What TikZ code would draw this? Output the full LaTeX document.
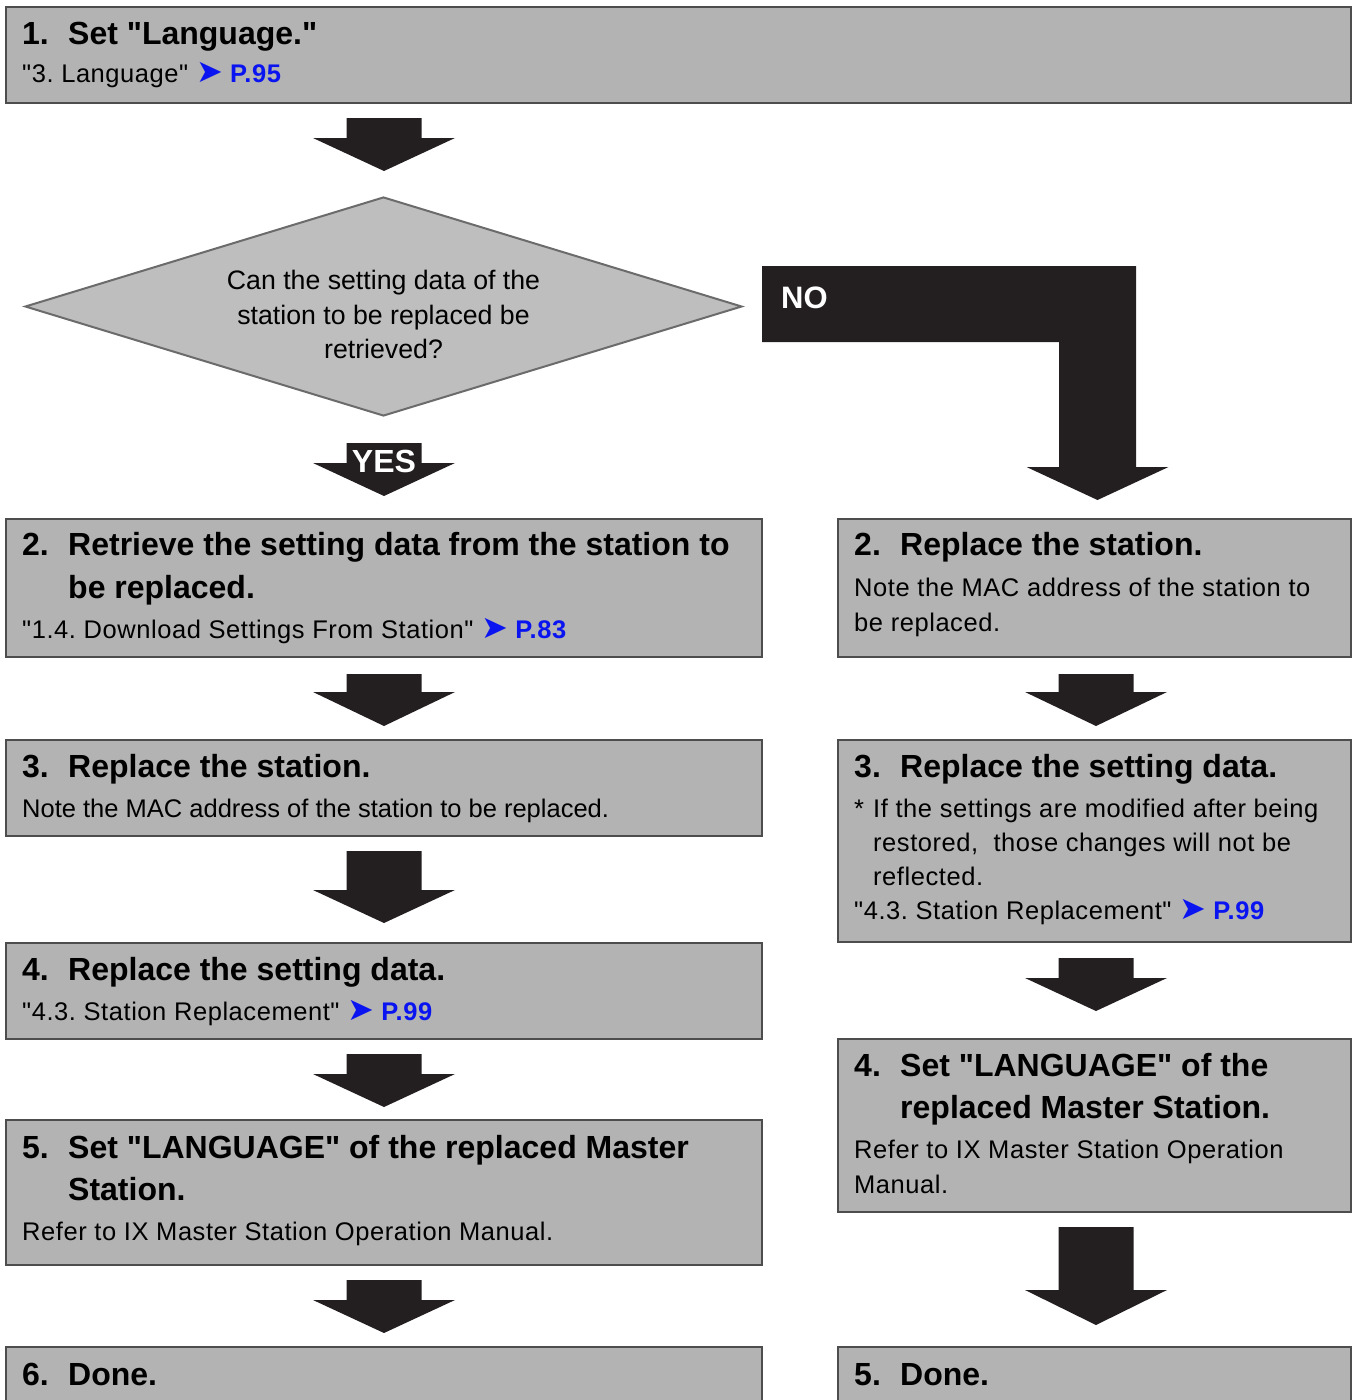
\documentclass[tikz,border=0pt]{standalone}
\usepackage{fontspec}
\setmainfont{Liberation Sans}[Ligatures=TeXOff]
\newfontfamily\trackfont{Liberation Sans}[Ligatures=TeXOff, LetterSpace=2.2]
\newfontfamily\symfont{DejaVu Sans}
\usetikzlibrary{shapes.geometric}
\definecolor{boxfill}{HTML}{B3B3B3}
\definecolor{boxline}{HTML}{4D4D4D}
\definecolor{diafill}{HTML}{BEBEBE}
\definecolor{dialine}{HTML}{6B6B6B}
\definecolor{arrowblack}{HTML}{231F20}
\definecolor{linkblue}{HTML}{0A14F0}
\frenchspacing
\newcommand\hdfont{\fontsize{32}{40}\selectfont\bfseries}
\newcommand\txfont{\fontsize{25.5}{34}\selectfont}
\newcommand\rffont{\fontsize{25.5}{34}\selectfont\trackfont}
\newcommand\dgfont{\fontsize{26.7}{34}\selectfont}
\newcommand\pref[1]{\hspace{8pt}{\fontsize{32}{34}\symfont\color{linkblue}➤}\hspace{7pt}\textcolor{linkblue}{\bfseries #1}}
\newcommand\blockarrow[5]{%
  \fill[arrowblack] (#1-37.5,#2) -- (#1+37.5,#2) -- (#1+37.5,#3) -- (#1+71,#3)
    -- (#1,#4) coordinate (#5) -- (#1-71,#3) -- (#1-37.5,#3) -- cycle;}
\tikzset{
  box/.style={draw=boxline, fill=boxfill, line width=2.5pt, rectangle, inner sep=0pt},
  hd/.style={anchor=base west, inner sep=0pt, font=\hdfont},
  tx/.style={anchor=base west, inner sep=0pt, font=\txfont},
  rf/.style={anchor=base west, inner sep=0pt, font=\rffont},
  dg/.style={anchor=base, inner sep=0pt, font=\dgfont},
}
\begin{document}
\begin{tikzpicture}[x=1pt,y=-1pt]
\useasboundingbox (0,0) rectangle (1356,1400);
\clip (0,0) rectangle (1356,1400);
% boxes
\node[box, minimum width=1345pt, minimum height=96pt] (b1) at (678.5,55) {};
\node[box, minimum width=756pt, minimum height=138pt] (l2) at (384,588) {};
\node[box, minimum width=756pt, minimum height=96pt] (l3) at (384,788) {};
\node[box, minimum width=756pt, minimum height=96pt] (l4) at (384,991) {};
\node[box, minimum width=756pt, minimum height=145pt] (l5) at (384,1192.5) {};
\node[box, minimum width=756pt, minimum height=73pt] (l6) at (384,1383.5) {};
\node[box, minimum width=513pt, minimum height=138pt] (r2) at (1094.5,588) {};
\node[box, minimum width=513pt, minimum height=202pt] (r3) at (1094.5,841) {};
\node[box, minimum width=513pt, minimum height=173pt] (r4) at (1094.5,1125.5) {};
\node[box, minimum width=513pt, minimum height=73pt] (r5) at (1094.5,1383.5) {};
% diamond
\node[diamond, draw=dialine, fill=diafill, line width=2pt, inner sep=0pt,
      minimum width=717pt, minimum height=219pt, aspect=3.27] (q) at (383.5,306.5) {};
\node[dg] (q1) at (383.5,289) {Can the setting data of the};
\node[dg] (q2) at (383.5,324) {station to be replaced be};
\node[dg] (q3) at (383.5,358) {retrieved?};
% texts box 1
\node[hd] (b1n) at (22,44) {1.};
\node[hd] (b1h) at (68,44) {Set "Language."};
\node[rf] (b1s) at (22,82) {"3. Language"\pref{P.95}};
% left column
\node[hd] (l2n) at (22,555) {2.};
\node[hd] (l2h) at (68,555) {Retrieve the setting data from the station to};
\node[hd] (l2h2) at (68,598) {be replaced.};
\node[rf] (l2s) at (22,638) {"1.4. Download Settings From Station"\pref{P.83}};
\node[hd] (l3n) at (22,777) {3.};
\node[hd] (l3h) at (68,777) {Replace the station.};
\node[tx] (l3s) at (22,817) {Note the MAC address of the station to be replaced.};
\node[hd] (l4n) at (22,980) {4.};
\node[hd] (l4h) at (68,980) {Replace the setting data.};
\node[rf] (l4s) at (22,1020) {"4.3. Station Replacement"\pref{P.99}};
\node[hd] (l5n) at (22,1158) {5.};
\node[hd] (l5h) at (68,1158) {Set "LANGUAGE" of the replaced Master};
\node[hd] (l5h2) at (68,1200) {Station.};
\node[rf] (l5s) at (22,1240) {Refer to IX Master Station Operation Manual.};
\node[hd] (l6n) at (22,1385) {6.};
\node[hd] (l6h) at (68,1385) {Done.};
% right column
\node[hd] (r2n) at (854,555) {2.};
\node[hd] (r2h) at (900,555) {Replace the station.};
\node[rf] (r2s) at (854,596) {Note the MAC address of the station to};
\node[rf] (r2s2) at (854,631) {be replaced.};
\node[hd] (r3n) at (854,777) {3.};
\node[hd] (r3h) at (900,777) {Replace the setting data.};
\node[rf] (r3a) at (854,817) {*};
\node[rf] (r3s) at (873,817) {If the settings are modified after being};
\node[rf] (r3s2) at (873,851) {restored,\ \ those changes will not be};
\node[rf] (r3s3) at (873,885) {reflected.};
\node[rf] (r3s4) at (854,919) {"4.3. Station Replacement"\pref{P.99}};
\node[hd] (r4n) at (854,1076) {4.};
\node[hd] (r4h) at (900,1076) {Set "LANGUAGE" of the};
\node[hd] (r4h2) at (900,1118) {replaced Master Station.};
\node[rf] (r4s) at (854,1158) {Refer to IX Master Station Operation};
\node[rf] (r4s2) at (854,1193) {Manual.};
\node[hd] (r5n) at (854,1385) {5.};
\node[hd] (r5h) at (900,1385) {Done.};
% block arrows
\blockarrow{384}{118}{138}{171}{a1}
\blockarrow{384}{443}{463}{496}{ayes}
\node[anchor=base, inner sep=0pt, font=\fontsize{32}{36}\selectfont\bfseries, text=white] (yes) at (384,472) {YES};
\blockarrow{384}{674}{692}{726}{al2}
\blockarrow{384}{851}{890}{923}{al3}
\blockarrow{384}{1054}{1074}{1107}{al4}
\blockarrow{384}{1280}{1300}{1333}{al5}
\blockarrow{1096}{674}{692}{726}{ar2}
\blockarrow{1096}{958}{978}{1011}{ar3}
\blockarrow{1096}{1227}{1290}{1325}{ar4}
% NO arrow
\fill[arrowblack] (762,266) -- (1136,266) -- (1136,467) -- (1168.5,467) -- (1097.5,500) coordinate (ano)
  -- (1026.5,467) -- (1059,467) -- (1059,342) -- (762,342) -- cycle;
\node[anchor=base west, inner sep=0pt, font=\fontsize{31}{36}\selectfont\bfseries, text=white] (no) at (781,308) {NO};
\end{tikzpicture}
\end{document}
